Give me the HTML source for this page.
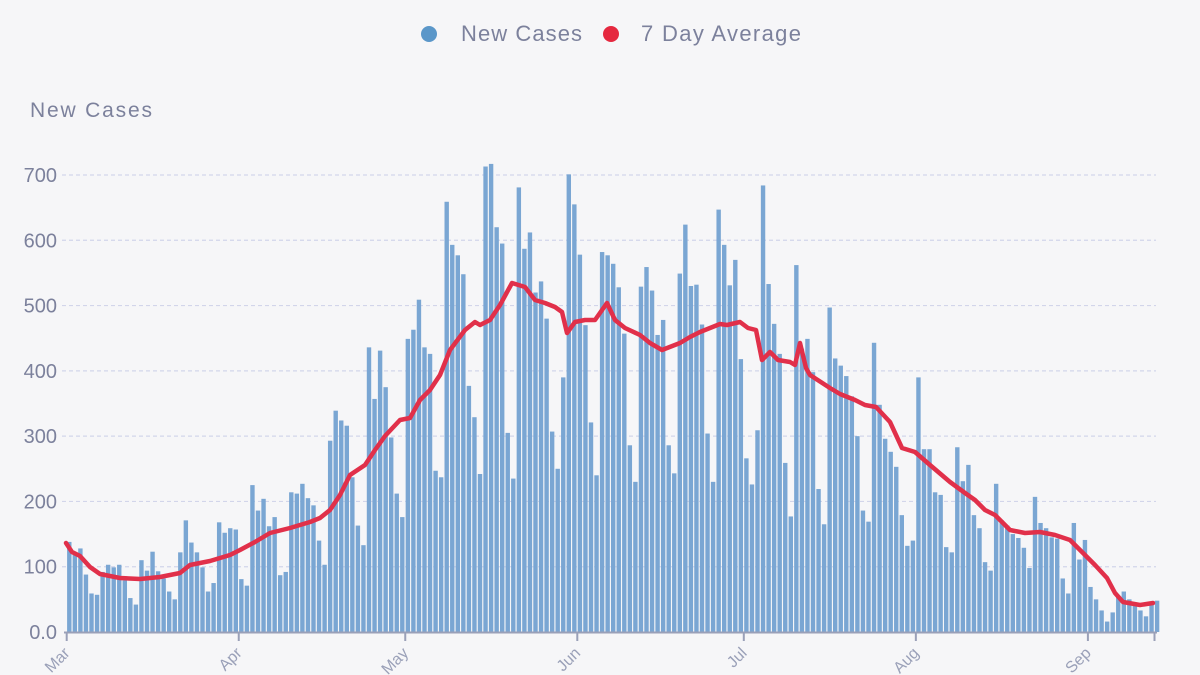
<!DOCTYPE html>
<html><head><meta charset="utf-8"><style>
html,body{margin:0;padding:0;background:#f6f6f8;}
svg{display:block;font-family:"Liberation Sans",sans-serif;}
</style></head><body>
<svg id="c" width="1200" height="675" viewBox="0 0 1200 675" xmlns="http://www.w3.org/2000/svg">
<rect width="1200" height="675" fill="#f6f6f8"/>
<circle cx="429" cy="34" r="8" fill="#5b97c9"/>
<text x="461" y="41" font-size="22" fill="#7c819c" textLength="121">New Cases</text>
<circle cx="611" cy="34" r="8" fill="#e5283f"/>
<text x="641" y="41" font-size="22" fill="#7c819c" textLength="160">7 Day Average</text>
<text x="30" y="117" font-size="21" fill="#7c819c" textLength="122">New Cases</text>
<g id="grid"></g>
<g id="bars"></g>
<polyline fill="none" stroke="#e1304a" stroke-width="4.5" stroke-linejoin="round" stroke-linecap="round" points="66,543 72,552 80,556 90,567 100,574 120,578 140,579 160,577 180,573 190,565 210,561 230,555 240,550 255,542 270,533 290,528 310,522 320,518 330,510 340,495 350,475 365,465 375,450 385,436 400,420 410,418 420,400 430,390 440,375 450,350 465,330 475,322 480,325 490,320 500,305 512,283 525,287 535,300 545,303 555,307 562,312 567,333 575,322 585,320 595,320 607,303 615,320 625,328 640,335 650,343 662,350 680,343 690,337 700,332 710,328 720,324 727,325 740,322 748,328 756,330 762,360 770,352 778,360 790,362 795,365 800,343 806,368 810,375 830,388 840,394 855,400 865,405 876,407 890,422 902,448 915,452 930,465 950,482 965,493 975,500 985,510 995,515 1010,530 1025,533 1040,532 1055,535 1070,540 1085,555 1095,565 1107,578 1115,593 1123,602 1140,605 1153,603"/>
<g id="axis"></g>
</svg>
<script>
var mar=[138,122,128,88,59,57,92,103,99,103,79,52,42,110,94,123,93,82,62,50,122,171,137,122,99,62,75,168,152,159,157];
var apr=[81,71,225,186,204,162,176,87,92,214,212,227,205,194,140,103,293,339,324,316,237,163,133,436,357,431,375,298,212,176];
var may=[449,463,509,436,426,247,237,659,593,577,548,377,329,242,713,717,620,595,305,235,681,587,612,520,537,480,307,250,390,701,655];
var jun=[578,470,321,240,582,577,564,528,457,286,230,529,559,523,455,478,286,243,549,624,530,532,471,304,230,647,593,531,570,418];
var jul=[266,226,309,684,533,472,426,259,177,562,434,449,398,219,165,497,419,408,392,361,300,186,169,443,348,296,276,253,179,132,140];
var aug=[390,280,280,214,210,130,122,283,231,256,179,159,107,94,227,171,163,150,144,129,98,207,167,159,145,143,82,59,167,111,141];
var sep=[69,50,33,16,30,54,62,50,43,33,24,46,48];
var d=mar.concat(apr,may,jun,jul,aug,sep);
var NS="http://www.w3.org/2000/svg";
function el(p,t,a,txt){var e=document.createElementNS(NS,t);for(var k in a)e.setAttribute(k,a[k]);if(txt!=null)e.textContent=txt;p.appendChild(e);return e;}
var x0=66.7,dx=5.55,y0=632,sc=457/700;
var g=document.getElementById('grid'),b=document.getElementById('bars'),ax=document.getElementById('axis');
for(var v=0;v<=700;v+=100){var y=y0-v*sc;
 if(v>0)el(g,'line',{x1:62,x2:1156,y1:y,y2:y,stroke:'#d2d5ea','stroke-width':1.2,'stroke-dasharray':'4 3'});
 el(g,'text',{x:57,y:y+7,'font-size':20,fill:'#7c819c','text-anchor':'end'},v==0?'0.0':String(v));}
for(var i=0;i<d.length;i++){var h=d[i]*sc;el(b,'rect',{x:x0+i*dx+0.4,y:y0-h,width:4.4,height:h,fill:'#7aa6d3'});}
el(ax,'line',{x1:64,x2:1157,y1:y0+0.5,y2:y0+0.5,stroke:'#9aa0b8','stroke-width':2});
var m=[['Mar',0],['Apr',31],['May',61],['Jun',92],['Jul',122],['Aug',153],['Sep',184],['',196]];
m.forEach(function(q){var x=x0+q[1]*dx;el(ax,'line',{x1:x,x2:x,y1:y0,y2:y0+9,stroke:'#9aa0b8','stroke-width':2});
 if(q[0])el(ax,'text',{x:x+4,y:y0+22,'font-size':16,fill:'#9aa0b8','text-anchor':'end',transform:'rotate(-45 '+(x+4)+' '+(y0+22)+')'},q[0]);});
</script>
</body></html>
